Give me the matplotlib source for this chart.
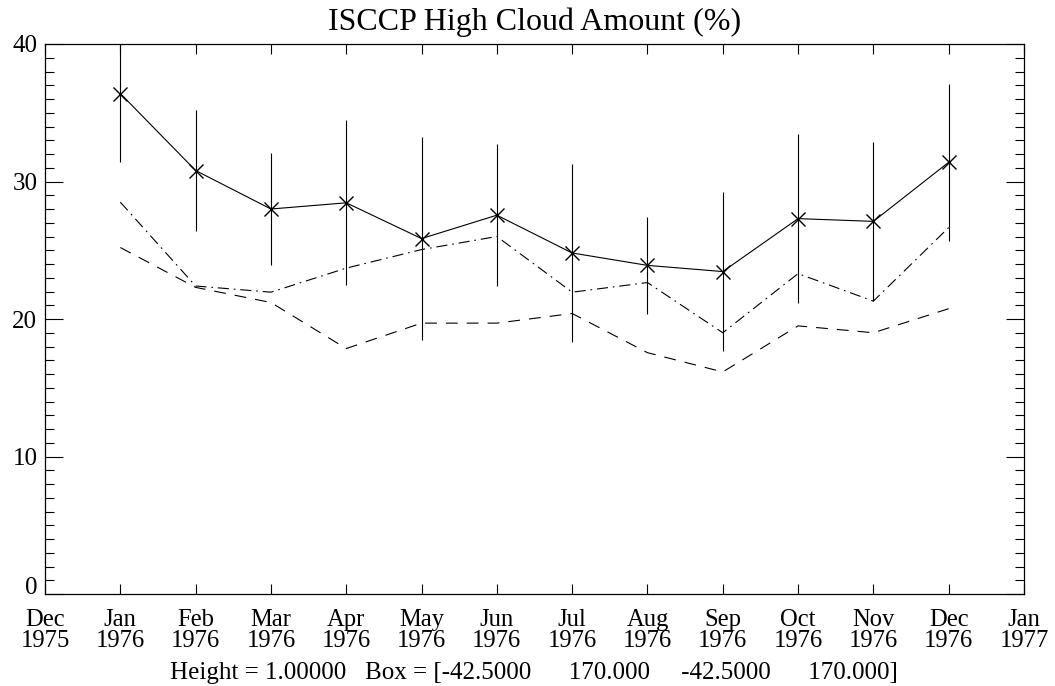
import numpy as np
import matplotlib
matplotlib.use("Agg")
import matplotlib.pyplot as plt
from matplotlib.ticker import MultipleLocator
from matplotlib.transforms import ScaledTranslation

# === données ===

month_labels = ["Dec\n1975", "Jan\n1976", "Feb\n1976", "Mar\n1976", "Apr\n1976",
                "May\n1976", "Jun\n1976", "Jul\n1976", "Aug\n1976", "Sep\n1976",
                "Oct\n1976", "Nov\n1976", "Dec\n1976", "Jan\n1977"]
month_pos = np.arange(1, 13)

high_mean = [36.4, 30.8, 28.0, 28.45, 25.85, 27.55, 24.8, 23.9, 23.45, 27.3, 27.1, 31.4]
high_sd = [4.97, 4.43, 4.04, 6.01, 7.37, 5.16, 6.49, 3.55, 5.78, 6.12, 5.76, 5.71]
high_dashdot = [28.5, 22.4, 21.95, 23.7, 25.05, 26.0, 21.95, 22.65, 19.0, 23.3, 21.3, 26.65]
high_dashed = [25.2, 22.3, 21.2, 17.85, 19.7, 19.7, 20.4, 17.55, 16.15, 19.5, 19.0, 20.75]

title = "ISCCP High Cloud Amount (%)"
subtitle = "Height = 1.00000   Box = [-42.5000      170.000     -42.5000      170.000]"

# === figure ===

plt.rcParams["font.family"] = ["Liberation Serif", "DejaVu Serif"]
plt.rcParams["lines.scale_dashes"] = False

fig = plt.figure(figsize=(10.55, 6.86), dpi=100)
ax = fig.add_axes([45 / 1055, 92 / 686, 979 / 1055, 550 / 686])

ax.plot(month_pos, high_dashed, color="black", lw=0.8, dashes=(8.5, 6.5))
ax.plot(month_pos, high_dashdot, color="black", lw=0.8, dashes=(8, 3.5, 1.2, 3.5))
ax.errorbar(month_pos, high_mean, yerr=high_sd, fmt="-", color="black",
            lw=0.8, elinewidth=0.8, capsize=0,
            marker="x", markersize=10, markeredgewidth=1.0)

ax.set_xlim(0, 13)
ax.set_ylim(0, 40)

ax.set_xticks(np.arange(0, 14), labels=month_labels)
ax.set_yticks([0, 10, 20, 30, 40], labels=["0", "10", "20", "30", "40"])
ax.yaxis.set_minor_locator(MultipleLocator(1))

ax.tick_params(axis="x", which="both", direction="in", top=True, bottom=True,
               length=7.2, width=0.8, labelsize=17.7, pad=10.5)
ax.tick_params(axis="y", which="major", direction="in", left=True, right=True,
               length=13.3, width=0.8, labelsize=18, pad=5.5)
ax.tick_params(axis="y", which="minor", direction="in", left=True, right=True,
               length=6.8, width=0.8)

for lab in ax.get_xticklabels():
    lab.set_linespacing(0.98)

# le "0" est un peu au-dessus de l'axe
lab0 = ax.yaxis.get_major_ticks()[0].label1
lab0.set_transform(lab0.get_transform() + ScaledTranslation(0, 9 / 100, fig.dpi_scale_trans))

for sp in ax.spines.values():
    sp.set_linewidth(0.9)

ax.set_title(title, fontsize=23, pad=10)
fig.text(534 / 1055, 7 / 686, subtitle, ha="center", va="baseline", fontsize=18)

fig.savefig("out.png", dpi=100)
